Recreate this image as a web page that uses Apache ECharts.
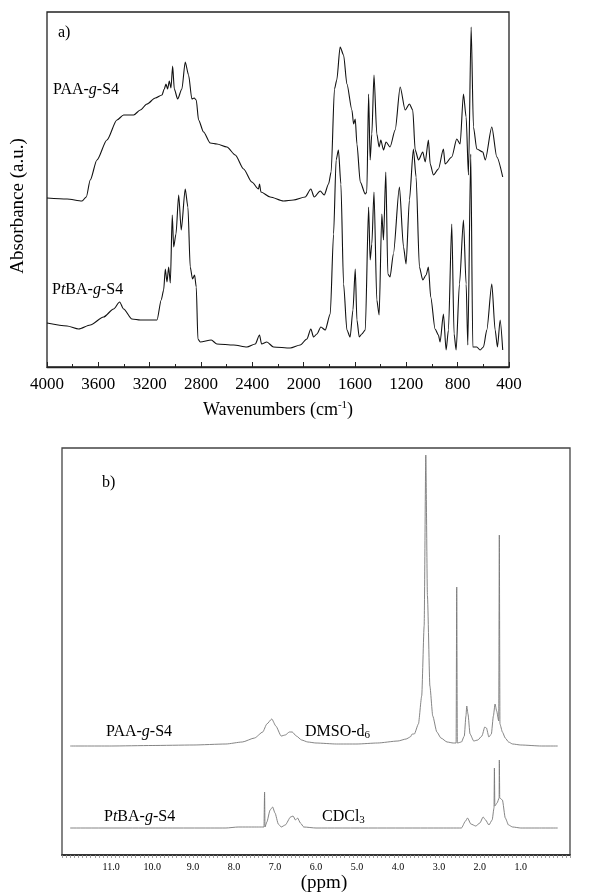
<!DOCTYPE html>
<html>
<head>
<meta charset="utf-8">
<script src="https://cdn.jsdelivr.net/npm/echarts@6/dist/echarts.min.js"></script>
<style>
  html, body { margin: 0; padding: 0; background: #fff; }
  #chart { width: 596px; height: 893px; }
</style>
</head>
<body>
<div id="chart"></div>
<script>
// a) IR spectra, [wavenumber (cm-1), absorbance a.u.]
const irPAA = [
  [4000,169],[3844,168],[3727,166],[3694,170],[3663,187],[3611,207],[3533,227],[3455,247],
  [3403,252],[3325,252],[3273,257],[3221,263],[3156,269],[3104,272],[3086,278],[3073,283],
  [3060,278],[3047,286],[3034,279],[3021,301],[3008,278],[2982,268],[2949,278],[2923,305],
  [2897,292],[2871,268],[2853,269],[2837,267],[2819,247],[2780,235],[2728,224],[2676,223],
  [2598,220],[2533,212],[2468,198],[2404,185],[2352,178],[2344,183],[2333,175],[2261,170],
  [2157,166],[2079,167],[1988,170],[1944,178],[1918,170],[1871,176],[1840,172],[1806,183],
  [1786,195],[1760,278],[1742,287],[1716,320],[1689,312],[1663,283],[1624,257],[1611,243],
  [1598,248],[1585,223],[1559,185],[1520,173],[1508,175],[1494,273],[1482,207],[1469,233],
  [1452,292],[1430,233],[1412,220],[1399,227],[1378,217],[1358,225],[1327,220],[1287,237],
  [1248,280],[1209,257],[1176,263],[1150,257],[1131,217],[1105,207],[1072,215],[1053,205],
  [1028,227],[1014,203],[989,192],[950,198],[911,218],[898,203],[846,210],[807,228],
  [781,223],[755,273],[734,250],[716,192],[695,340],[677,240],[651,218],[604,215],
  [585,207],[534,240],[495,210],[449,190]
];
const irPtBA = [
  [4000,44],[3844,41],[3753,38],[3663,42],[3559,50],[3481,58],[3434,65],[3403,58],
  [3338,48],[3273,47],[3143,47],[3110,67],[3091,77],[3078,98],[3065,85],[3052,100],
  [3039,84],[3024,152],[3013,120],[2995,133],[2974,172],[2954,137],[2923,178],[2902,160],
  [2884,100],[2866,88],[2850,92],[2837,80],[2824,28],[2806,25],[2720,27],[2676,23],
  [2546,22],[2442,20],[2377,23],[2344,32],[2328,23],[2287,25],[2235,20],[2105,19],
  [2027,22],[1975,28],[1944,38],[1923,30],[1897,33],[1866,40],[1832,37],[1793,53],
  [1767,133],[1747,207],[1729,217],[1710,183],[1689,83],[1663,37],[1638,30],[1616,57],
  [1598,98],[1585,47],[1567,30],[1547,33],[1520,37],[1494,160],[1482,107],[1469,123],
  [1452,175],[1430,67],[1412,52],[1391,153],[1378,127],[1360,195],[1344,93],[1327,90],
  [1301,113],[1254,180],[1222,120],[1202,103],[1176,167],[1145,218],[1124,190],[1098,100],
  [1072,87],[1046,92],[1028,100],[1010,70],[976,38],[950,32],[937,25],[911,53],
  [890,17],[872,37],[846,143],[828,33],[812,17],[786,83],[755,147],[734,83],
  [721,22],[698,213],[682,20],[651,20],[625,17],[599,20],[573,37],[534,83],
  [508,37],[490,20],[469,47],[449,17]
];
const irTicks = [4000, 3600, 3200, 2800, 2400, 2000, 1600, 1200, 800, 400];

// b) 1H NMR spectra, [ppm, intensity above own baseline]
const nmrPAA = [
  [12.0,0],[11.0,0],[10.0,0.5],[9.0,1],[8.2,2],[7.8,4],[7.5,8],[7.3,14],[7.2,22],[7.08,27],
  [6.98,20],[6.85,10],[6.75,11],[6.65,14],[6.58,14],[6.48,10],[6.35,6],[6.2,4],[6.0,3],
  [5.5,2],[5.0,2],[4.5,3],[4.0,5],[3.8,7],[3.7,9],[3.65,12],[3.6,12],[3.5,22],[3.42,50],
  [3.36,120],[3.32,291],[3.28,150],[3.22,60],[3.15,30],[3.05,14],[2.95,8],[2.8,4],[2.65,3],
  [2.58,3],[2.565,159],[2.55,3],[2.45,4],[2.38,10],[2.34,30],[2.32,40],[2.29,32],[2.24,12],
  [2.15,5],[2.05,6],[1.95,10],[1.88,19],[1.84,18],[1.78,9],[1.72,12],[1.67,30],[1.63,42],
  [1.59,35],[1.54,25],[1.525,211],[1.51,22],[1.45,14],[1.38,8],[1.3,4],[1.2,2],[1.0,1],
  [0.5,0],[0.1,0]
];
const nmrPtBA = [
  [12.0,0],[10.0,0],[8.2,0],[7.9,1],[7.4,1],[7.27,1],[7.255,36],[7.245,1],[7.2,6],[7.12,18],
  [7.06,21],[7.0,15],[6.92,4],[6.85,1],[6.75,3],[6.62,11],[6.56,12],[6.5,8],[6.45,10],
  [6.38,5],[6.3,1],[6.0,0],[3.0,0],[2.45,0],[2.35,7],[2.3,10],[2.22,4],[2.1,2],[2.0,5],
  [1.92,11],[1.86,8],[1.78,3],[1.7,8],[1.655,20],[1.645,60],[1.635,22],[1.58,25],[1.53,30],
  [1.525,68],[1.515,30],[1.45,28],[1.38,10],[1.3,3],[1.2,1],[1.0,0],[0.5,0],[0.1,0]
];
const ppmLabels = [11, 10, 9, 8, 7, 6, 5, 4, 3, 2, 1];

const PAA_BASE = 109;   // vertical offset of the stacked NMR traces
const PTBA_BASE = 27;

const SERIF = "'Liberation Serif', 'Times New Roman', serif";
const chart = echarts.init(document.getElementById('chart'), null, { renderer: 'canvas' });

function label(x, y, text, size, extra) {
  return Object.assign({
    type: 'text', x: x, y: y, silent: true,
    style: {
      text: text, fill: '#000', fontSize: size, fontFamily: SERIF,
      align: 'left', verticalAlign: 'middle',
      rich: {
        n: { fontSize: size, fontFamily: SERIF, lineHeight: size + 2 },
        i: { fontSize: size, fontFamily: SERIF, fontStyle: 'italic', lineHeight: size + 2 },
        sub: { fontSize: size - 5, fontFamily: SERIF, lineHeight: size - 4, verticalAlign: 'bottom' },
        sup: { fontSize: size - 7, fontFamily: SERIF, lineHeight: size - 10, verticalAlign: 'top' }
      }
    }
  }, extra || {});
}

const option = {
  animation: false,
  backgroundColor: '#fff',
  grid: [
    { left: 47, top: 12, width: 462, height: 355, show: true, borderColor: '#222', borderWidth: 1.3, backgroundColor: 'transparent' },
    { left: 62, top: 448, width: 508, height: 407, show: true, borderColor: '#444', borderWidth: 1.3, backgroundColor: 'transparent' }
  ],
  xAxis: [
    {
      gridIndex: 0, type: 'value', inverse: true, min: 400, max: 4000, interval: 400,
      axisLine: { show: true, lineStyle: { color: '#222', width: 1.3 } },
      axisTick: { show: true, inside: true, length: 5, lineStyle: { color: '#222' } },
      minorTick: { show: true, splitNumber: 2, length: 3, lineStyle: { color: '#222' } },
      splitLine: { show: false },
      axisLabel: {
        color: '#000', fontSize: 17, fontFamily: SERIF, margin: 9,
        showMinLabel: true, showMaxLabel: true,
        formatter: v => irTicks.indexOf(Math.round(v)) >= 0 ? String(Math.round(v)) : ''
      }
    },
    {
      gridIndex: 1, type: 'value', inverse: true, min: -0.2, max: 12.2, interval: 0.1,
      axisLine: { show: true, lineStyle: { color: '#333', width: 1.8 } },
      axisTick: { show: true, inside: false, length: 3, lineStyle: { color: '#888', width: 0.8 } },
      splitLine: { show: false },
      axisLabel: {
        color: '#000', fontSize: 10, fontFamily: SERIF, margin: 7,
        formatter: v => {
          const r = Math.round(v * 10) / 10;
          return (Math.abs(r - Math.round(r)) < 1e-6 && ppmLabels.indexOf(Math.round(r)) >= 0) ? r.toFixed(1) : '';
        }
      }
    }
  ],
  yAxis: [
    { gridIndex: 0, type: 'value', min: 0, max: 355, show: false },
    { gridIndex: 1, type: 'value', min: 0, max: 407, show: false }
  ],
  series: [
    { type: 'line', xAxisIndex: 0, yAxisIndex: 0, data: irPAA, symbol: 'none', smooth: 0.25, smoothMonotone: 'x', lineStyle: { color: '#111', width: 1.1 } },
    { type: 'line', xAxisIndex: 0, yAxisIndex: 0, data: irPtBA, symbol: 'none', smooth: 0.25, smoothMonotone: 'x', lineStyle: { color: '#111', width: 1.1 } },
    { type: 'line', xAxisIndex: 1, yAxisIndex: 1, data: nmrPAA.map(d => [d[0], PAA_BASE + d[1]]), symbol: 'none', smooth: 0.2, smoothMonotone: 'x', lineStyle: { color: '#777', width: 0.9 } },
    { type: 'line', xAxisIndex: 1, yAxisIndex: 1, data: nmrPtBA.map(d => [d[0], PTBA_BASE + d[1]]), symbol: 'none', smooth: 0.2, smoothMonotone: 'x', lineStyle: { color: '#777', width: 0.9 } }
  ],
  graphic: [
    label(58, 33, 'a)', 16),
    label(53, 90, '{n|PAA-}{i|g}{n|-S4}', 16),
    label(52, 290, '{n|P}{i|t}{n|BA-}{i|g}{n|-S4}', 16),
    label(18, 206, 'Absorbance (a.u.)', 19, { rotation: Math.PI / 2, style: { text: 'Absorbance (a.u.)', fill: '#000', fontSize: 19, fontFamily: SERIF, align: 'center', verticalAlign: 'middle' } }),
    label(278, 410, '{n|Wavenumbers (cm}{sup|-1}{n|)}', 18, {}),
    label(102, 483, 'b)', 16),
    label(106, 732, '{n|PAA-}{i|g}{n|-S4}', 16),
    label(305, 732, '{n|DMSO-d}{sub|6}', 16),
    label(104, 817, '{n|P}{i|t}{n|BA-}{i|g}{n|-S4}', 16),
    label(322, 817, '{n|CDCl}{sub|3}', 16),
    label(324, 883, '(ppm)', 19)
  ]
};
// centre the x-axis title of panel a and the ppm title
option.graphic[4].style.align = 'center';
option.graphic[10].style.align = 'center';
chart.setOption(option);
</script>
</body>
</html>
